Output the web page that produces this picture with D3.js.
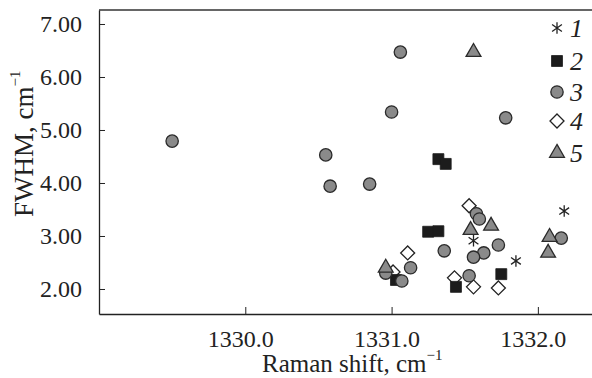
<!DOCTYPE html>
<html>
<head>
<meta charset="utf-8">
<script src="https://cdn.jsdelivr.net/npm/d3@7"></script>
<style>
  body { margin: 0; background: #fff; }
  text { font-family: "Liberation Serif", "Times New Roman", serif; fill: #222; }
</style>
</head>
<body>
<script>
// series 1..5 : Raman shift (cm-1) and FWHM (cm-1)
const shift1 = [1331.56, 1331.85, 1332.18];
const fwhm1 = [2.91, 2.53, 3.47];

const shift2 = [1331.32, 1331.37, 1331.25, 1331.32, 1331.44, 1331.75, 1331.03];
const fwhm2 = [4.45, 4.36, 3.08, 3.09, 2.04, 2.28, 2.17];

const shift3 = [1329.50, 1331.06, 1331.00, 1330.55, 1330.58, 1330.85, 1331.78, 1332.16,
                1331.58, 1331.60, 1331.36, 1331.73, 1331.63, 1331.56, 1331.13, 1330.96,
                1331.07, 1331.53];
const fwhm3 = [4.79, 6.47, 5.34, 4.53, 3.94, 3.98, 5.23, 2.96,
               3.42, 3.32, 2.72, 2.83, 2.68, 2.60, 2.40, 2.30,
               2.15, 2.25];

const shift4 = [1331.53, 1331.11, 1331.01, 1331.43, 1331.56, 1331.73];
const fwhm4 = [3.57, 2.68, 2.32, 2.21, 2.04, 2.02];

const shift5 = [1331.56, 1331.54, 1331.68, 1332.08, 1332.07, 1330.96];
const fwhm5 = [6.47, 3.11, 3.19, 2.98, 2.68, 2.40];

const seriesLabels = ["1", "2", "3", "4", "5"];
const xTicks = [1330, 1331, 1332];
const yTicks = [2, 3, 4, 5, 6, 7];

function main() {
    const width = 592, height = 378;
    const left = 99, top = 10, right = 592, bottom = 314;

    const svg = d3.select("body").append("svg")
        .attr("width", width)
        .attr("height", height);

    const x = d3.scaleLinear().domain([1329, 1332.37]).range([left, right]);
    const y = d3.scaleLinear().domain([1.528, 7.264]).range([bottom, top]);

    // custom asterisk: vertical bar plus an X
    const star = {
        draw(ctx, size) {
            const r = Math.sqrt(size) * 0.55;
            const a = r * 0.85, b = r * 0.6;
            ctx.moveTo(0, -r); ctx.lineTo(0, r);
            ctx.moveTo(-a, -b); ctx.lineTo(a, b);
            ctx.moveTo(-a, b); ctx.lineTo(a, -b);
        }
    };
    // square diamond (d3's own diamond is too tall)
    const rhomb = {
        draw(ctx, size) {
            const r = Math.sqrt(size) * 0.7;
            ctx.moveTo(0, -r); ctx.lineTo(r, 0); ctx.lineTo(0, r); ctx.lineTo(-r, 0);
            ctx.closePath();
        }
    };

    const styles = {
        "1": { type: star, size: 110, fill: "none", stroke: "#222", sw: 1.3 },
        "2": { type: d3.symbolSquare, size: 120, fill: "#1c1c1c", stroke: "#1c1c1c", sw: 0.8 },
        "3": { type: d3.symbolCircle, size: 120, fill: "#8a8a8a", stroke: "#2a2a2a", sw: 1.3 },
        "4": { type: rhomb, size: 100, fill: "#fff", stroke: "#222", sw: 1.3 },
        "5": { type: d3.symbolTriangle, size: 95, fill: "#8a8a8a", stroke: "#2a2a2a", sw: 1.3 }
    };

    const series = {
        "1": d3.zip(shift1, fwhm1),
        "2": d3.zip(shift2, fwhm2),
        "3": d3.zip(shift3, fwhm3),
        "4": d3.zip(shift4, fwhm4),
        "5": d3.zip(shift5, fwhm5)
    };

    // frame lines
    svg.append("line")
        .attr("x1", left).attr("x2", right).attr("y1", top).attr("y2", top)
        .attr("stroke", "#666").attr("stroke-width", 2);

    const xAxis = svg.append("g")
        .attr("transform", "translate(0," + bottom + ")")
        .call(d3.axisBottom(x).tickValues(xTicks).tickFormat(d3.format(".1f"))
            .tickSizeInner(-7).tickSizeOuter(0).tickPadding(16));
    xAxis.select(".domain").attr("stroke", "#222").attr("stroke-width", 1.3);
    xAxis.selectAll(".tick line").attr("stroke", "#222");
    xAxis.selectAll(".tick text")
        .attr("font-size", 24)
        .attr("dx", -5)
        .style("font-family", "Liberation Serif")
        .attr("fill", "#222");

    const yAxis = svg.append("g")
        .attr("transform", "translate(" + left + ",0)")
        .call(d3.axisLeft(y).tickValues(yTicks).tickFormat(d3.format(".2f"))
            .tickSizeInner(-6).tickSizeOuter(0).tickPadding(17));
    yAxis.select(".domain").attr("stroke", "#222").attr("stroke-width", 1.3);
    yAxis.selectAll(".tick line").attr("stroke", "#222");
    yAxis.selectAll(".tick text")
        .attr("font-size", 24)
        .style("font-family", "Liberation Serif")
        .attr("fill", "#222");

    // axis titles
    const xt = svg.append("text")
        .attr("x", 262).attr("y", 372)
        .attr("font-size", 25);
    xt.append("tspan").text("Raman shift, cm");
    xt.append("tspan").attr("dy", -12).attr("font-size", 15).text("\u22121");

    const yt = svg.append("text")
        .attr("transform", "translate(33,217) rotate(-90)")
        .attr("font-size", 27);
    yt.append("tspan").text("FWHM, cm");
    yt.append("tspan").attr("dy", -13).attr("font-size", 15).text("\u22121");

    // points, drawn in the stacking order of the reference
    const order = ["4", "2", "3", "5", "1"];
    order.forEach(k => {
        const s = styles[k];
        svg.append("g").selectAll("path")
            .data(series[k])
            .enter()
            .append("path")
            .attr("transform", d => "translate(" + x(d[0]) + "," + y(d[1]) + ")")
            .attr("d", d3.symbol().type(s.type).size(s.size))
            .attr("fill", s.fill)
            .attr("stroke", s.stroke)
            .attr("stroke-width", s.sw);
    });

    // legend
    const legendY = [28, 61, 92, 121, 153];
    const legend = svg.append("g");
    seriesLabels.forEach((lab, i) => {
        const s = styles[lab];
        legend.append("path")
            .attr("transform", "translate(557," + legendY[i] + ")")
            .attr("d", d3.symbol().type(s.type).size(s.size))
            .attr("fill", s.fill)
            .attr("stroke", s.stroke)
            .attr("stroke-width", s.sw);
        legend.append("text")
            .attr("x", 570).attr("y", legendY[i] + 9)
            .attr("font-size", 26)
            .attr("font-style", "italic")
            .text(lab);
    });
}
main();
</script>
</body>
</html>
